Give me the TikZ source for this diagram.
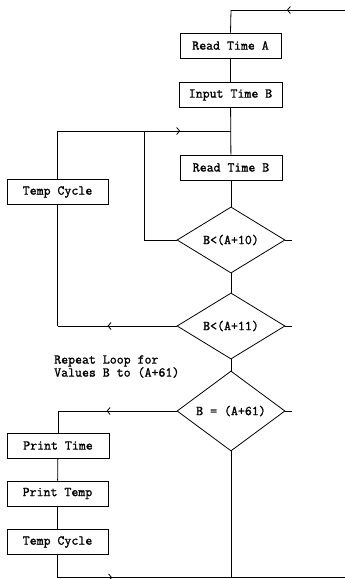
\documentclass[tikz,border=0pt]{standalone}
\usepackage{fontspec}
\newfontfamily\courfont{Latin Modern Mono}[FakeBold=1.3]
\usetikzlibrary{shapes.geometric,arrows.meta,decorations.markings}
\tikzset{
  every node/.style={font=\courfont\fontsize{13.5}{13}\selectfont},
  line/.style={line width=0.8pt},
  stepbox/.style={draw,line width=0.8pt,rectangle,inner sep=0pt,minimum width=#1,minimum height=25pt},
  decision/.style={draw,line width=0.8pt,diamond,inner sep=0pt,minimum width=108pt,minimum height=#1},
  chev/.style={postaction={decorate},decoration={markings,mark=at position #1 with {\arrow{Straight Barb[length=3pt,width=7pt,line width=0.8pt]}}}}
}
\begin{document}
\begin{tikzpicture}[x=1pt,y=-1pt]
\useasboundingbox (0,0) rectangle (345,579);
% boxes
\node[stepbox=101pt] (rta) at (230.5,45.5) {Read Time A};
\node[stepbox=103pt] (itb) at (230.5,95) {Input Time B};
\node[stepbox=102pt] (rtb) at (231,167.5) {Read Time B};
\node[stepbox=101pt] (tc1) at (57.5,192) {Temp Cycle};
\node[decision=58pt] (d1) at (231,240) {B<(A+10)};
\node[decision=60pt] (d2) at (231,326) {B<(A+11)};
\node[decision=58pt] (d3) at (231,411) {B = (A+61)};
\node[stepbox=102pt] (pt) at (58,445.5) {Print Time};
\node[stepbox=101pt] (ptemp) at (57.5,493.5) {Print Temp};
\node[stepbox=101pt] (tc2) at (57.5,542) {Temp Cycle};
\node[anchor=west,align=left,inner sep=0pt] (note) at (54,366.5) {Repeat Loop for\\Values B to (A+61)};
% coordinates
\coordinate (topR) at (345,10);
\coordinate (topL) at (231,10);
\coordinate (loopL) at (57.5,131);
\coordinate (loopR) at (231,131);
\coordinate (j1) at (144,131);
\coordinate (d1w) at (144,240);
\coordinate (d1e) at (292,240);
\coordinate (d2e) at (292,326);
\coordinate (d3e) at (292,411);
\coordinate (d2l) at (57.5,326);
\coordinate (d3l) at (58,411);
\coordinate (botL) at (57.5,577.5);
\coordinate (botR) at (345,577.5);
\coordinate (botM) at (231,577.5);
% connectors
\draw[line,chev=0.51] (topR) -- (topL);
\draw[line] (topL) -- (rta.north);
\draw[line] (rta) -- (itb);
\draw[line] (itb) -- (rtb);
\draw[line] (tc1.north) -- (loopL);
\draw[line,chev=0.707] (loopL) -- (loopR);
\draw[line] (d1.west) -- (d1w) -- (j1);
\draw[line] (rtb) -- (d1);
\draw[line] (d1.east) -- (d1e);
\draw[line] (d1) -- (d2);
\draw[line,chev=0.58] (d2.west) -- (d2l);
\draw[line] (d2l) -- (tc1.south);
\draw[line] (d2.east) -- (d2e);
\draw[line] (d2) -- (d3);
\draw[line,chev=0.59] (d3.west) -- (d3l);
\draw[line] (d3l) -- (pt.north);
\draw[line] (d3.east) -- (d3e);
\draw[line] (pt) -- (ptemp);
\draw[line] (ptemp) -- (tc2);
\draw[line] (tc2.south) -- (botL);
\draw[line,chev=0.19] (botL) -- (botR);
\draw[line] (d3.south) -- (botM);
\end{tikzpicture}
\end{document}
